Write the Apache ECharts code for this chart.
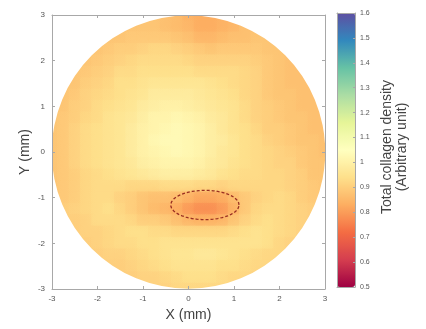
<!DOCTYPE html>
<html><head><meta charset="utf-8">
<script src="https://cdn.jsdelivr.net/npm/echarts@6/dist/echarts.min.js"></script>
<style>html,body{margin:0;padding:0;background:#fff}#c{width:426px;height:329px}</style>
</head><body><div id="c"></div>
<script>
const _ = null;
const xTicks = [-3, -2, -1, 0, 1, 2, 3];
const yTicks = [-3, -2, -1, 0, 1, 2, 3];
const cbTicks = [0.5, 0.6, 0.7, 0.8, 0.9, 1.0, 1.1, 1.2, 1.3, 1.4, 1.5, 1.6];
const gridX = [-3,-2.75,-2.5,-2.25,-2,-1.75,-1.5,-1.25,-1,-0.75,-0.5,-0.25,0,0.25,0.5,0.75,1,1.25,1.5,1.75,2,2.25,2.5,2.75,3];
const gridY = [3,2.75,2.5,2.25,2,1.75,1.5,1.25,1,0.75,0.5,0.25,0,-0.25,-0.5,-0.75,-1,-1.25,-1.5,-1.75,-2,-2.25,-2.5,-2.75,-3];
const density = [
[_,_,_,_,_,_,_,_,_,.88,.87,.86,.84,.83,.83,.84,_,_,_,_,_,_,_,_,_],
[_,_,_,_,_,_,.88,.88,.88,.88,.87,.86,.85,.83,.83,.84,.85,.87,.87,_,_,_,_,_,_],
[_,_,_,_,_,.88,.88,.89,.89,.89,.89,.88,.87,.85,.85,.86,.87,.87,.88,.88,_,_,_,_,_],
[_,_,_,_,.88,.89,.90,.90,.91,.92,.92,.91,.90,.89,.88,.89,.89,.89,.89,.88,.88,_,_,_,_],
[_,_,_,.88,.89,.90,.91,.92,.93,.93,.93,.93,.92,.91,.91,.91,.91,.91,.90,.89,.88,.87,_,_,_],
[_,_,.88,.89,.90,.91,.93,.93,.94,.94,.94,.94,.94,.93,.93,.93,.93,.92,.91,.89,.88,.87,.87,_,_],
[_,.88,.88,.90,.91,.92,.94,.94,.95,.96,.96,.96,.96,.96,.95,.94,.93,.92,.91,.89,.88,.87,.87,.87,_],
[_,.88,.89,.91,.92,.93,.94,.95,.96,.98,.98,.98,.98,.97,.96,.95,.94,.92,.91,.89,.88,.88,.87,.87,_],
[_,.88,.90,.91,.93,.94,.95,.96,.98,.99,1.0,1.0,.99,.98,.97,.96,.95,.93,.91,.90,.89,.88,.87,.87,_],
[.88,.89,.90,.92,.93,.95,.96,.97,.99,1.01,1.01,1.02,1.01,1.0,.98,.97,.95,.93,.91,.90,.89,.88,.88,.87,.87],
[.88,.89,.91,.93,.94,.95,.96,.98,1.0,1.01,1.02,1.03,1.02,1.01,.99,.97,.95,.94,.92,.90,.90,.89,.88,.87,.87],
[.88,.89,.91,.93,.94,.95,.96,.98,1.0,1.02,1.03,1.03,1.02,1.01,.99,.98,.96,.94,.93,.91,.90,.89,.88,.88,.87],
[.88,.89,.91,.93,.94,.95,.96,.98,1.0,1.01,1.02,1.03,1.02,1.01,.99,.97,.96,.94,.93,.92,.91,.90,.89,.88,.87],
[.88,.89,.91,.93,.94,.95,.96,.97,.99,1.0,1.01,1.01,1.01,1.0,.98,.97,.95,.94,.93,.92,.91,.91,.89,.88,.88],
[.88,.89,.90,.92,.93,.94,.95,.96,.97,.98,.99,.99,.99,.98,.97,.95,.94,.93,.93,.92,.92,.91,.90,.88,.88],
[.88,.89,.90,.92,.93,.93,.93,.92,.92,.92,.93,.93,.93,.92,.92,.91,.92,.92,.92,.92,.92,.91,.90,.89,.88],
[_,.89,.90,.92,.93,.93,.91,.90,.88,.87,.87,.86,.84,.82,.82,.83,.86,.89,.91,.92,.93,.92,.90,.89,_],
[_,.90,.91,.92,.93,.94,.92,.90,.88,.86,.85,.83,.80,.78,.78,.80,.84,.89,.92,.93,.93,.92,.91,.90,_],
[_,.90,.90,.91,.93,.93,.93,.92,.90,.90,.89,.87,.85,.84,.84,.85,.88,.91,.93,.94,.93,.92,.91,.90,_],
[_,_,.90,.91,.91,.92,.93,.94,.94,.93,.93,.92,.92,.92,.92,.92,.93,.94,.95,.94,.93,.92,.91,_,_],
[_,_,_,.90,.91,.92,.93,.93,.94,.94,.95,.95,.95,.95,.95,.95,.95,.95,.95,.94,.92,.91,_,_,_],
[_,_,_,_,.90,.91,.91,.92,.93,.94,.95,.96,.96,.97,.97,.96,.95,.94,.93,.92,.92,_,_,_,_],
[_,_,_,_,_,.90,.90,.91,.92,.93,.94,.95,.95,.95,.95,.94,.94,.93,.92,.92,_,_,_,_,_],
[_,_,_,_,_,_,.90,.90,.91,.91,.92,.93,.94,.94,.94,.93,.92,.92,.91,_,_,_,_,_,_],
[_,_,_,_,_,_,_,_,_,.91,.91,.92,.92,.92,.92,.92,_,_,_,_,_,_,_,_,_]
];
const roi = { cx: 0.36, cy: -1.16, rx: 0.75, ry: 0.32 };
const discRadius = 3;
const spectral = ['#9e0142','#d53e4f','#f46d43','#fdae61','#fee08b','#ffffbf','#e6f598','#abdda4','#66c2a5','#3288bd','#5e4fa2'];

density.forEach((r, j) => { if (r.length !== gridX.length) console.error('row ' + j + ' has ' + r.length); });

const cells = [];
density.forEach((row, j) => row.forEach((v, i) => { if (v !== null) cells.push([gridX[i], gridY[j], v]); }));
const step = Math.abs(gridX[1] - gridX[0]);

const roiLine = [];
for (let k = 0; k <= 90; k++) {
  const a = 2 * Math.PI * k / 90;
  roiLine.push([roi.cx + roi.rx * Math.cos(a), roi.cy + roi.ry * Math.sin(a)]);
}

const FONT = 'Liberation Sans, Arial, sans-serif';
const axisCol = '#a8a8a8';
const labCol = '#555';

function boxAxis(extra) {
  return Object.assign({
    type: 'value', z: 10,
    axisLine: { show: true, onZero: false, lineStyle: { color: axisCol, width: 1 } },
    axisTick: { show: true, inside: true, length: 3, lineStyle: { color: axisCol } },
    axisLabel: { show: false },
    splitLine: { show: false }
  }, extra);
}

const chart = echarts.init(document.getElementById('c'), null, { renderer: 'canvas' });
const cbInterval = Math.round((cbTicks[1] - cbTicks[0]) * 100) / 100;

chart.setOption({
  animation: false,
  backgroundColor: '#fff',
  textStyle: { fontFamily: FONT },
  grid: [
    { left: 52, top: 15, width: 273, height: 274 },
    { left: 337, top: 13, width: 18, height: 274 }
  ],
  xAxis: [
    boxAxis({ gridIndex: 0, position: 'bottom', min: xTicks[0], max: xTicks[xTicks.length - 1], interval: 1,
      axisLabel: { show: true, fontSize: 8, color: labCol, margin: 6, fontFamily: FONT },
      name: 'X (mm)', nameLocation: 'middle', nameGap: 19, nameMoveOverlap: false,
      nameTextStyle: { fontSize: 14, color: '#444', fontFamily: FONT } }),
    boxAxis({ gridIndex: 0, position: 'top', min: xTicks[0], max: xTicks[xTicks.length - 1], interval: 1 }),
    boxAxis({ gridIndex: 1, position: 'bottom', min: 0, max: 1, axisTick: { show: false } }),
    boxAxis({ gridIndex: 1, position: 'top', min: 0, max: 1, axisTick: { show: false } })
  ],
  yAxis: [
    boxAxis({ gridIndex: 0, position: 'left', min: yTicks[0], max: yTicks[yTicks.length - 1], interval: 1,
      axisLabel: { show: true, fontSize: 8, color: labCol, margin: 7, fontFamily: FONT },
      name: 'Y (mm)', nameLocation: 'middle', nameGap: 20, nameRotate: 90, nameMoveOverlap: false,
      nameTextStyle: { fontSize: 14, color: '#444', fontFamily: FONT } }),
    boxAxis({ gridIndex: 0, position: 'right', min: yTicks[0], max: yTicks[yTicks.length - 1], interval: 1 }),
    boxAxis({ gridIndex: 1, position: 'right', min: cbTicks[0], max: cbTicks[cbTicks.length - 1], interval: cbInterval,
      axisTick: { show: true, inside: true, length: 2, lineStyle: { color: axisCol } },
      axisLabel: { show: true, fontSize: 7, color: labCol, margin: 5, fontFamily: FONT,
        formatter: v => String(+v.toFixed(1)) } }),
    boxAxis({ gridIndex: 1, position: 'left', min: cbTicks[0], max: cbTicks[cbTicks.length - 1], axisTick: { show: false } })
  ],
  visualMap: {
    type: 'continuous', seriesIndex: [0, 1], dimension: 2,
    min: cbTicks[0], max: cbTicks[cbTicks.length - 1],
    left: 337, top: 13, itemWidth: 18, itemHeight: 274, padding: 0,
    calculable: false, realtime: false, hoverLink: false,
    inRange: { color: spectral }, text: null, showLabel: false
  },
  graphic: [{
    type: 'text', x: 395, y: 147, rotation: Math.PI / 2,
    style: { text: 'Total collagen density\n(Arbitrary unit)', fontSize: 14, lineHeight: 15,
      fill: '#444', fontFamily: 'Liberation Sans', align: 'center', verticalAlign: 'middle' }
  }],
  series: [
    {
      type: 'custom', xAxisIndex: 0, yAxisIndex: 0, clip: true, data: cells,
      renderItem: (params, api) => {
        const c = api.coord([api.value(0), api.value(1)]);
        const s = api.size([step, step]);
        return { type: 'rect', shape: { x: c[0] - s[0] / 2 - 0.5, y: c[1] - s[1] / 2 - 0.5, width: s[0] + 1, height: s[1] + 1 },
          style: { fill: api.visual('color') } };
      }
    },
    {
      type: 'custom', xAxisIndex: 0, yAxisIndex: 0, clip: true, data: cells, z: 2,
      renderItem: (params, api) => {
        const c = api.coord([api.value(0), api.value(1)]);
        const s = api.size([step, step]);
        const col = api.visual('color');
        return { type: 'circle', shape: { cx: c[0], cy: c[1], r: s[0] * 1.05 },
          style: { fill: { type: 'radial', x: 0.5, y: 0.5, r: 0.5, colorStops: [
            { offset: 0, color: echarts.color.modifyAlpha(col, 0.5) },
            { offset: 1, color: echarts.color.modifyAlpha(col, 0) } ] } } };
      }
    },
    {
      type: 'custom', xAxisIndex: 0, yAxisIndex: 0, clip: true, data: [[0, 0]], z: 3,
      renderItem: (params, api) => {
        const c = api.coord([0, 0]);
        const r = api.size([discRadius, discRadius]);
        const rr = (r[0] + r[1]) / 2;
        return { type: 'ring', shape: { cx: c[0], cy: c[1], r0: rr, r: rr + 60 }, style: { fill: '#fff' } };
      }
    },
    {
      type: 'line', xAxisIndex: 0, yAxisIndex: 0, data: roiLine, showSymbol: false, z: 4,
      lineStyle: { color: '#9a2f22', width: 1.3, type: [3, 2] }
    }
  ]
});
</script></body></html>
